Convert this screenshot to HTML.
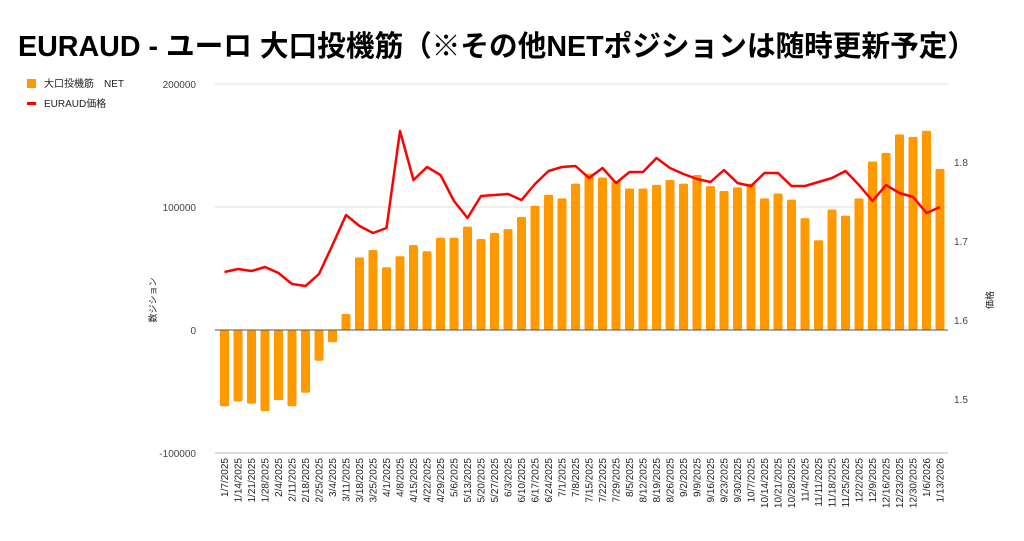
<!DOCTYPE html>
<html><head><meta charset="utf-8"><style>
body{margin:0;background:#fff;}
svg text{font-family:"Liberation Sans","Noto Sans CJK JP",sans-serif;}
</style></head><body>
<svg id="s" width="1024" height="536" xmlns="http://www.w3.org/2000/svg">
<rect width="1024" height="536" fill="#fff"/>
<text x="18" y="56" font-size="29" font-weight="bold" fill="#000" textLength="958" lengthAdjust="spacingAndGlyphs">EURAUD - ユーロ 大口投機筋（※その他NETポジションは随時更新予定）</text>
<rect x="27" y="79" width="9" height="9" fill="#ff9900"/>
<text x="44" y="87" font-size="10" fill="#222">大口投機筋　NET</text>
<rect x="27" y="102" width="9" height="3" fill="#ff0000"/>
<text x="44" y="107" font-size="10" fill="#222">EURAUD価格</text>
<g font-size="10" fill="#444" text-anchor="end">
<text x="196" y="88">200000</text><text x="196" y="211">100000</text><text x="196" y="334">0</text><text x="196" y="457">-100000</text>
</g>
<g font-size="10" fill="#444">
<text x="954" y="166">1.8</text><text x="954" y="245">1.7</text><text x="954" y="324">1.6</text><text x="954" y="403">1.5</text>
</g>
<text transform="translate(156,300) rotate(-90)" font-size="9" fill="#222" text-anchor="middle">数ジション</text>
<text transform="translate(993,300) rotate(-90)" font-size="9" fill="#222" text-anchor="middle">価格</text>
<line x1="215" y1="84" x2="948" y2="84" stroke="#ddd"/>
<line x1="215" y1="207" x2="948" y2="207" stroke="#ddd"/>
<line x1="215" y1="453" x2="948" y2="453" stroke="#ddd" stroke-width="2"/>
<g id="bars"></g>
<line x1="215" y1="330" x2="948" y2="330" stroke="#555"/>
<polyline id="ln" fill="none" stroke="#ff0000" stroke-width="2.5" stroke-linejoin="round"/>
<g font-size="10" fill="#222" text-anchor="end" id="lbl">
<text transform="translate(228,458) rotate(-90)">1/7/2025</text>
<text transform="translate(241.5,458) rotate(-90)">1/14/2025</text>
<text transform="translate(255,458) rotate(-90)">1/21/2025</text>
<text transform="translate(268.5,458) rotate(-90)">1/28/2025</text>
<text transform="translate(282,458) rotate(-90)">2/4/2025</text>
<text transform="translate(295.5,458) rotate(-90)">2/11/2025</text>
<text transform="translate(309,458) rotate(-90)">2/18/2025</text>
<text transform="translate(322.5,458) rotate(-90)">2/25/2025</text>
<text transform="translate(336,458) rotate(-90)">3/4/2025</text>
<text transform="translate(349.5,458) rotate(-90)">3/11/2025</text>
<text transform="translate(363,458) rotate(-90)">3/18/2025</text>
<text transform="translate(376.5,458) rotate(-90)">3/25/2025</text>
<text transform="translate(390,458) rotate(-90)">4/1/2025</text>
<text transform="translate(403.5,458) rotate(-90)">4/8/2025</text>
<text transform="translate(417,458) rotate(-90)">4/15/2025</text>
<text transform="translate(430.5,458) rotate(-90)">4/22/2025</text>
<text transform="translate(444,458) rotate(-90)">4/29/2025</text>
<text transform="translate(457.5,458) rotate(-90)">5/6/2025</text>
<text transform="translate(471,458) rotate(-90)">5/13/2025</text>
<text transform="translate(484.5,458) rotate(-90)">5/20/2025</text>
<text transform="translate(498,458) rotate(-90)">5/27/2025</text>
<text transform="translate(511.5,458) rotate(-90)">6/3/2025</text>
<text transform="translate(525,458) rotate(-90)">6/10/2025</text>
<text transform="translate(538.5,458) rotate(-90)">6/17/2025</text>
<text transform="translate(552,458) rotate(-90)">6/24/2025</text>
<text transform="translate(565.5,458) rotate(-90)">7/1/2025</text>
<text transform="translate(579,458) rotate(-90)">7/8/2025</text>
<text transform="translate(592.5,458) rotate(-90)">7/15/2025</text>
<text transform="translate(606,458) rotate(-90)">7/22/2025</text>
<text transform="translate(619.5,458) rotate(-90)">7/29/2025</text>
<text transform="translate(633,458) rotate(-90)">8/5/2025</text>
<text transform="translate(646.5,458) rotate(-90)">8/12/2025</text>
<text transform="translate(660,458) rotate(-90)">8/19/2025</text>
<text transform="translate(673.5,458) rotate(-90)">8/26/2025</text>
<text transform="translate(687,458) rotate(-90)">9/2/2025</text>
<text transform="translate(700.5,458) rotate(-90)">9/9/2025</text>
<text transform="translate(714,458) rotate(-90)">9/16/2025</text>
<text transform="translate(727.5,458) rotate(-90)">9/23/2025</text>
<text transform="translate(741,458) rotate(-90)">9/30/2025</text>
<text transform="translate(754.5,458) rotate(-90)">10/7/2025</text>
<text transform="translate(768,458) rotate(-90)">10/14/2025</text>
<text transform="translate(781.5,458) rotate(-90)">10/21/2025</text>
<text transform="translate(795,458) rotate(-90)">10/28/2025</text>
<text transform="translate(808.5,458) rotate(-90)">11/4/2025</text>
<text transform="translate(822,458) rotate(-90)">11/11/2025</text>
<text transform="translate(835.5,458) rotate(-90)">11/18/2025</text>
<text transform="translate(849,458) rotate(-90)">11/25/2025</text>
<text transform="translate(862.5,458) rotate(-90)">12/2/2025</text>
<text transform="translate(876,458) rotate(-90)">12/9/2025</text>
<text transform="translate(889.5,458) rotate(-90)">12/16/2025</text>
<text transform="translate(903,458) rotate(-90)">12/23/2025</text>
<text transform="translate(916.5,458) rotate(-90)">12/30/2025</text>
<text transform="translate(930,458) rotate(-90)">1/6/2026</text>
<text transform="translate(943.5,458) rotate(-90)">1/13/2026</text>
</g>
</svg>
<script>
var b=[-62,-58,-60,-66,-57,-62,-51,-25,-10,13,59,65,51,60,69,64,75,75,84,74,79,82,92,101,110,107,119,127,124,121,115,115,118,122,119,126,117,113,116,119,107,111,106,91,73,98,93,107,137,144,159,157,162,131];
var l=[272,269,271,267,273,284,286,274,245,215,226,233,228,131,180,167,175,201,218,196,195,194,200,184,171,167,166,178,168,183,172,172,158,168,174,179,182,170,183,186,173,173,186,186,182,178,171,185,201,185,193,197,213,207];
var g=document.getElementById('bars'),ns='http://www.w3.org/2000/svg',pts=[];
for(var i=0;i<54;i++){var cx=224.5+i*13.5,v=b[i]*1.23,r=document.createElementNS(ns,'rect');
r.setAttribute('x',cx-4.5);r.setAttribute('width',9);r.setAttribute('y',v>0?330-v:330);r.setAttribute('height',Math.abs(v));r.setAttribute('fill','#ff9900');r.setAttribute('rx',1.5);g.appendChild(r);pts.push(cx+','+l[i]);}
document.getElementById('ln').setAttribute('points',pts.join(' '));
</script>
</body></html>
